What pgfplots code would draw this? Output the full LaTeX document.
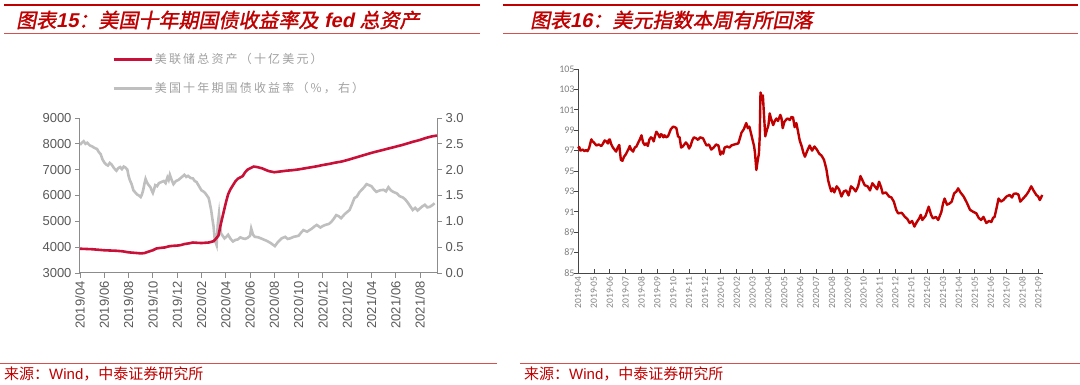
\documentclass[border=0pt]{standalone}
\usepackage{pgfplots}
\usepackage{pgfplotstable}
\pgfplotsset{compat=1.18}
\usepackage{fontspec}
\setmainfont{Liberation Sans}
\newfontfamily\cjk{Noto Sans CJK SC}
\newfontfamily\cjklg[LetterSpace=18]{Noto Sans CJK SC}
\newfontfamily\cjkti[FakeSlant=0.2,FakeBold=1.5]{Noto Sans CJK SC}
\newfontfamily\latti[FakeSlant=0.2]{Liberation Sans Bold}
\newfontfamily\carl{Carlito}
\definecolor{titred}{RGB}{192,0,0}
\definecolor{thinred}{RGB}{215,80,80}
\definecolor{fedred}{RGB}{200,16,56}
\definecolor{ylgray}{RGB}{191,191,191}
\definecolor{dxyred}{RGB}{192,0,0}
\definecolor{axgray}{RGB}{140,140,140}
\definecolor{txtgray}{RGB}{89,89,89}
\definecolor{lggray}{RGB}{160,160,160}
\definecolor{dkaxis}{RGB}{70,70,70}
\definecolor{ltxt}{RGB}{128,128,128}

\pgfplotstableread{
m v
0 3940
0.5 3930
1 3920
1.5 3900
2 3880
2.5 3870
3 3860
3.5 3840
4 3800
4.5 3780
5 3760
5.3 3770
5.6 3820
6 3880
6.3 3950
6.6 3970
7 3990
7.3 4030
7.6 4050
8 4060
8.3 4080
8.6 4120
9 4150
9.3 4180
9.6 4170
10 4160
10.3 4170
10.6 4180
11 4230
11.2 4330
11.4 4450
11.6 4900
11.8 5300
12 5700
12.2 6050
12.4 6250
12.6 6400
12.8 6550
13 6650
13.2 6700
13.4 6750
13.6 6900
13.8 7000
14 7050
14.3 7120
14.6 7100
15 7050
15.5 6950
16 6900
16.5 6930
17 6960
17.5 6980
18 7010
18.5 7050
19 7090
19.5 7130
20 7180
20.5 7220
21 7270
21.5 7310
22 7370
22.5 7440
23 7510
23.5 7580
24 7650
24.5 7710
25 7770
25.5 7830
26 7890
26.5 7950
27 8020
27.5 8090
28 8150
28.5 8230
29 8290
29.4 8320
}\fedtab

\pgfplotstableread{
m v
0 2.48
0.15 2.52
0.3 2.55
0.45 2.50
0.6 2.52
0.8 2.47
1.0 2.45
1.2 2.42
1.4 2.40
1.55 2.34
1.7 2.30
1.85 2.20
2.0 2.14
2.15 2.10
2.3 2.08
2.45 2.13
2.6 2.10
2.8 2.03
3.0 1.98
3.15 2.03
3.3 2.05
3.45 2.01
3.6 2.06
3.75 2.04
3.9 2.00
4.0 1.88
4.1 1.80
4.25 1.72
4.4 1.60
4.55 1.56
4.7 1.52
4.85 1.50
5.0 1.47
5.1 1.52
5.2 1.60
5.3 1.72
5.4 1.82
5.5 1.76
5.6 1.72
5.7 1.69
5.8 1.66
5.9 1.60
6.0 1.55
6.1 1.62
6.2 1.70
6.35 1.68
6.5 1.74
6.7 1.76
6.9 1.78
7.05 1.74
7.2 1.85
7.3 1.80
7.4 1.90
7.55 1.80
7.7 1.72
7.9 1.78
8.1 1.80
8.3 1.84
8.6 1.90
8.75 1.86
8.9 1.88
9.1 1.84
9.3 1.83
9.45 1.78
9.6 1.76
9.8 1.68
10.0 1.60
10.15 1.58
10.3 1.55
10.45 1.50
10.6 1.45
10.7 1.34
10.8 1.22
10.9 1.05
11.0 0.90
11.1 0.64
11.25 0.54
11.35 0.95
11.45 1.15
11.6 0.77
11.75 0.72
11.9 0.67
12.05 0.70
12.2 0.74
12.4 0.66
12.6 0.61
12.8 0.64
13.0 0.65
13.2 0.69
13.4 0.67
13.6 0.66
13.8 0.68
14.0 0.72
14.1 0.86
14.25 0.74
14.4 0.70
14.7 0.69
15.0 0.66
15.2 0.64
15.4 0.62
15.7 0.58
16.05 0.52
16.3 0.60
16.6 0.67
16.9 0.70
17.1 0.66
17.3 0.67
17.6 0.70
18.0 0.72
18.2 0.78
18.4 0.83
18.7 0.80
19.1 0.86
19.3 0.90
19.5 0.93
19.8 0.88
20.0 0.91
20.2 0.93
20.5 0.95
20.7 0.99
20.9 1.05
21.1 1.12
21.3 1.10
21.5 1.06
21.8 1.14
22.0 1.18
22.2 1.22
22.4 1.33
22.6 1.45
22.8 1.48
23.0 1.56
23.2 1.61
23.4 1.66
23.6 1.72
23.8 1.70
24.0 1.68
24.2 1.62
24.4 1.57
24.7 1.60
25.0 1.61
25.2 1.58
25.4 1.66
25.6 1.60
25.8 1.57
26.1 1.54
26.3 1.49
26.6 1.46
26.8 1.42
27.0 1.36
27.2 1.29
27.4 1.22
27.6 1.26
27.8 1.21
28.0 1.25
28.2 1.29
28.4 1.32
28.6 1.27
28.8 1.28
29.0 1.31
29.2 1.35
}\yldtab

\pgfplotstableread{
m v
0 97.2
0.08 97.35
0.15 97.0
0.3 97.1
0.4 96.95
0.5 97.05
0.6 96.95
0.7 97.25
0.84 98.1
0.92 97.9
1.0 97.8
1.16 97.5
1.3 97.6
1.47 97.45
1.58 97.7
1.68 98.0
1.78 97.9
1.89 97.7
1.94 98.05
2.0 98.1
2.1 97.6
2.2 97.3
2.3 97.1
2.4 96.9
2.5 97.3
2.6 97.55
2.7 96.1
2.8 96.0
2.9 96.4
3.0 96.6
3.1 96.9
3.2 97.2
3.26 97.45
3.35 97.1
3.47 96.9
3.58 97.3
3.68 97.4
3.8 97.8
3.9 98.1
4.0 98.5
4.1 97.8
4.2 97.55
4.3 97.7
4.4 97.45
4.5 98.1
4.6 98.3
4.68 98.2
4.77 97.9
4.85 98.4
4.94 98.85
5.05 98.6
5.15 98.3
5.22 98.6
5.3 98.55
5.38 98.3
5.46 98.5
5.55 98.3
5.67 98.4
5.75 98.7
5.85 99.1
6.0 99.35
6.1 99.3
6.2 99.2
6.3 98.4
6.4 98.3
6.5 97.3
6.6 97.4
6.7 97.6
6.8 97.8
6.9 97.6
7.0 97.2
7.1 97.5
7.2 98.0
7.3 98.3
7.45 98.2
7.56 98.05
7.7 98.3
7.88 98.2
8.0 97.8
8.1 97.5
8.25 97.6
8.4 97.1
8.55 97.3
8.7 97.6
8.85 97.5
8.97 96.6
9.05 96.9
9.15 96.7
9.24 97.3
9.4 97.4
9.55 97.3
9.66 97.5
9.85 97.6
10.1 97.7
10.2 98.2
10.3 98.75
10.45 99.1
10.6 99.7
10.7 99.2
10.8 99.35
10.9 98.7
11.0 98.05
11.1 97.4
11.15 96.8
11.24 95.1
11.32 96.0
11.4 96.7
11.45 98.3
11.5 102.7
11.57 102.3
11.65 102.4
11.72 100.5
11.8 98.4
11.9 99.0
12.0 99.5
12.08 100.65
12.15 100.2
12.3 99.5
12.4 99.9
12.5 100.15
12.6 99.9
12.75 100.5
12.82 100.2
12.9 99.2
13.0 99.8
13.1 100.0
13.2 100.15
13.35 100.0
13.45 100.3
13.55 100.25
13.65 99.3
13.76 99.7
13.85 99.0
13.97 98.0
14.1 97.4
14.2 96.8
14.3 96.4
14.45 97.0
14.6 97.5
14.75 97.0
14.9 97.4
15.05 97.1
15.2 96.7
15.35 96.5
15.5 96.1
15.65 95.2
15.76 94.1
15.86 93.5
15.96 93.0
16.05 93.3
16.15 92.9
16.3 93.5
16.45 93.2
16.6 92.5
16.75 93.0
16.9 93.1
17.05 92.6
17.2 93.5
17.35 93.3
17.5 93.0
17.65 93.5
17.8 94.5
17.95 94.0
18.07 93.6
18.25 93.5
18.4 93.1
18.55 93.8
18.7 93.5
18.85 93.2
18.97 93.95
19.1 93.4
19.2 92.8
19.4 92.9
19.6 92.5
19.75 92.4
19.9 92.0
20.05 91.2
20.17 90.85
20.4 90.9
20.6 90.5
20.75 90.3
20.9 89.9
21.05 90.1
21.2 89.55
21.35 90.0
21.5 90.35
21.6 90.7
21.7 90.2
21.9 90.6
22.1 91.5
22.25 90.7
22.37 90.35
22.55 90.5
22.7 90.2
22.8 90.6
22.9 91.0
23.0 91.8
23.1 92.3
23.25 91.7
23.4 91.8
23.55 92.0
23.7 92.8
23.85 93.0
23.95 93.3
24.1 92.9
24.3 92.5
24.5 91.9
24.7 91.2
24.9 91.0
25.1 90.85
25.25 90.4
25.4 90.2
25.55 90.5
25.73 89.9
25.9 90.1
26.05 90.0
26.15 90.4
26.25 90.5
26.38 91.4
26.5 92.3
26.65 92.0
26.8 92.15
27.0 92.5
27.2 92.65
27.35 92.4
27.45 92.75
27.6 92.8
27.75 92.7
27.87 92.0
28.05 92.3
28.25 92.65
28.4 93.0
28.56 93.5
28.7 93.1
28.88 92.65
29.0 92.5
29.1 92.15
29.18 92.4
29.25 92.65
}\dxytab

\begin{document}
\begin{tikzpicture}[x=1pt,y=1pt]
\useasboundingbox (0,0) rectangle (1080,385);
% header rules
\draw[titred,line width=2.2pt] (4,380) -- (480,380);
\draw[titred,line width=2.2pt] (503,380) -- (1078,380);
\draw[thinred,line width=0.8pt] (4,352) -- (480,352);
\draw[thinred,line width=0.8pt] (503,352) -- (1078,352);
\node[anchor=west,text=titred,inner sep=0pt,font=\fontsize{20}{20}\selectfont] at (16,365) {\cjkti 图表{\latti 15}：美国十年期国债收益率及{\latti\ fed }总资产};
\node[anchor=west,text=titred,inner sep=0pt,font=\fontsize{20}{20}\selectfont] at (530,365) {\cjkti 图表{\latti 16}：美元指数本周有所回落};
% footer
\draw[thinred,line width=0.8pt] (0,22) -- (497,22);
\draw[thinred,line width=0.8pt] (520,22) -- (1080,22);
\node[anchor=west,text=titred,inner sep=0pt,font=\fontsize{15}{15}\selectfont] at (4,11) {\cjk 来源：{\rmfamily Wind}，中泰证券研究所};
\node[anchor=west,text=titred,inner sep=0pt,font=\fontsize{15}{15}\selectfont] at (524,11) {\cjk 来源：{\rmfamily Wind}，中泰证券研究所};

% ---------- left chart: yield (right axis) ----------
\begin{axis}[at={(80pt,112pt)},anchor=south west,scale only axis,
  width=357pt,height=155pt,
  xmin=0,xmax=29.4,ymin=0,ymax=3,
  axis x line=none, axis y line*=right,
  ytick={0,0.5,...,3},
  yticklabel style={/pgf/number format/.cd,fixed,fixed zerofill,precision=1,assume math mode=true},
  tick label style={font=\fontsize{13}{13}\selectfont,text=txtgray},
  axis line style={axgray,line width=1pt},
  tick style={axgray,line width=0.8pt},
  tick align=outside, major tick length=5pt,
  clip=false]
\addplot[ylgray,line width=2.6pt] table[x=m,y=v]{\yldtab};
\end{axis}
% ---------- left chart: Fed assets (left axis) ----------
\begin{axis}[at={(80pt,112pt)},anchor=south west,scale only axis,
  width=357pt,height=155pt,
  xmin=0,xmax=29.4,ymin=3000,ymax=9000,
  axis x line*=bottom, axis y line*=left,
  ytick={3000,4000,...,9000},
  xtick={0,2,...,28},
  xticklabels={2019/04,2019/06,2019/08,2019/10,2019/12,2020/02,2020/04,2020/06,2020/08,2020/10,2020/12,2021/02,2021/04,2021/06,2021/08},
  x tick label style={rotate=90,anchor=east},
  yticklabel style={/pgf/number format/.cd,1000 sep={},assume math mode=true},
  tick label style={font=\fontsize{13}{13}\selectfont,text=txtgray},
  axis line style={axgray,line width=1pt},
  tick style={axgray,line width=0.8pt},
  tick align=outside, major tick length=5pt,
  legend style={at={(0.09,1.43)},anchor=north west,draw=none,fill=none,
    font=\cjklg\fontsize{12}{12}\selectfont,text=lggray,row sep=13pt,
    inner sep=0pt,nodes={inner sep=2pt}},
  legend cell align=left,
  legend image code/.code={\draw[#1] (0pt,0pt) -- (38pt,0pt);},
  clip=false]
\addplot[fedred,line width=2.6pt] table[x=m,y=v]{\fedtab};
\addlegendentry{美联储总资产（十亿美元）}
\addlegendimage{ylgray,line width=2.6pt}
\addlegendentry{美国十年期国债收益率（\%，右）}
\end{axis}

% ---------- right chart: DXY ----------
\begin{axis}[at={(578pt,112pt)},anchor=south west,scale only axis,
  width=464.5pt,height=204pt,
  xmin=0,xmax=29.27,ymin=85,ymax=105,
  axis x line*=bottom, axis y line*=left,
  ytick={85,87,...,105},
  xtick={0,1,...,29},
  xticklabels={2019-04,2019-05,2019-06,2019-07,2019-08,2019-09,2019-10,2019-11,2019-12,2020-01,2020-02,2020-03,2020-04,2020-05,2020-06,2020-07,2020-08,2020-09,2020-10,2020-11,2020-12,2021-01,2021-02,2021-03,2021-04,2021-05,2021-06,2021-07,2021-08,2021-09},
  x tick label style={rotate=90,anchor=east,font=\carl\fontsize{9.5}{9.5}\selectfont,text=ltxt},
  y tick label style={font=\carl\fontsize{10}{10}\selectfont,text=ltxt},
  yticklabel style={/pgf/number format/assume math mode=true},
  axis line style={dkaxis,line width=0.9pt},
  tick style={dkaxis,line width=0.7pt},
  tick align=inside, major tick length=4pt,
  major y tick style={xshift=-4pt},
  clip=false]
\addplot[dxyred,line width=2.4pt,line join=round] table[x=m,y=v]{\dxytab};
\end{axis}
\end{tikzpicture}
\end{document}
